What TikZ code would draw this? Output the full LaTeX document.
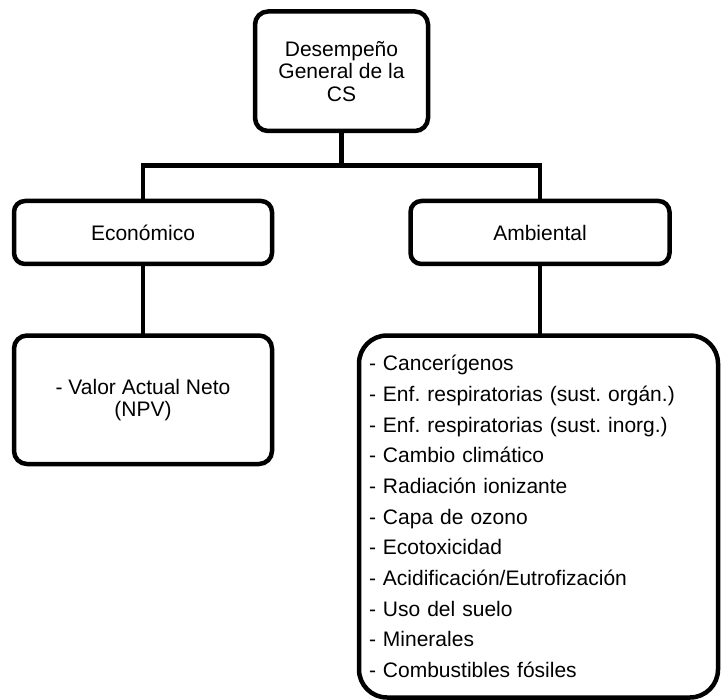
\documentclass[tikz,border=0pt]{standalone}
\usepackage{fontspec}
\setmainfont{Liberation Sans}
\frenchspacing
\begin{document}
\begin{tikzpicture}[x=1pt,y=-1pt,
  box/.style={draw=black, line width=4.5pt, rounded corners=13pt, fill=white,
    inner sep=0pt, outer sep=0pt, align=center, text=black},
  bigbox/.style={draw=black, line width=4.5pt, rounded corners=28pt, fill=white,
    inner xsep=10pt, inner ysep=0pt, outer sep=0pt, align=left, text=black},
  link/.style={draw=black, line width=4.5pt}]
\useasboundingbox (0,0) rectangle (722,700);
\fill[white] (0,0) rectangle (722,700);
\clip (0,0) rectangle (722,700);

\node[box, minimum width=173pt, minimum height=119.5pt,
  font=\fontsize{21}{22.5}\selectfont] (top) at (341.5,71.25)
  {Desempeño\\General de la\\CS};
\node[box, minimum width=258pt, minimum height=63pt, rounded corners=11pt,
  font=\fontsize{21}{22.5}\selectfont] (eco) at (143,232.5) {Económico};
\node[box, minimum width=259pt, minimum height=63pt, rounded corners=11pt,
  font=\fontsize{21}{22.5}\selectfont] (amb) at (540,232.5) {Ambiental};
\node[box, minimum width=258pt, minimum height=128.5pt,
  font=\fontsize{21}{22}\selectfont] (npv) at (143,399.75)
  {- Valor Actual Neto\\(NPV)};
\node[bigbox, minimum width=359pt, minimum height=362pt, text width=339pt,
  font=\fontsize{21}{30.7}\selectfont\frenchspacing] (list) at (538.5,516.5)
  {- Cancerígenos\\
   - Enf. respiratorias (sust. orgán.)\\
   - Enf. respiratorias (sust. inorg.)\\
   - Cambio climático\\
   - Radiación ionizante\\
   - Capa de ozono\\
   - Ecotoxicidad\\
   - Acidificación/Eutrofización\\
   - Uso del suelo\\
   - Minerales\\
   - Combustibles fósiles};

\coordinate (hub) at (341.5,165.5);
\draw[link] (top.south) -- (hub);
\draw[link] (eco.north) |- (hub) -| (amb.north);
\draw[link] (eco.south) -- (npv.north);
\draw[link] (amb.south) -- (amb.south |- list.north);
\end{tikzpicture}
\end{document}
